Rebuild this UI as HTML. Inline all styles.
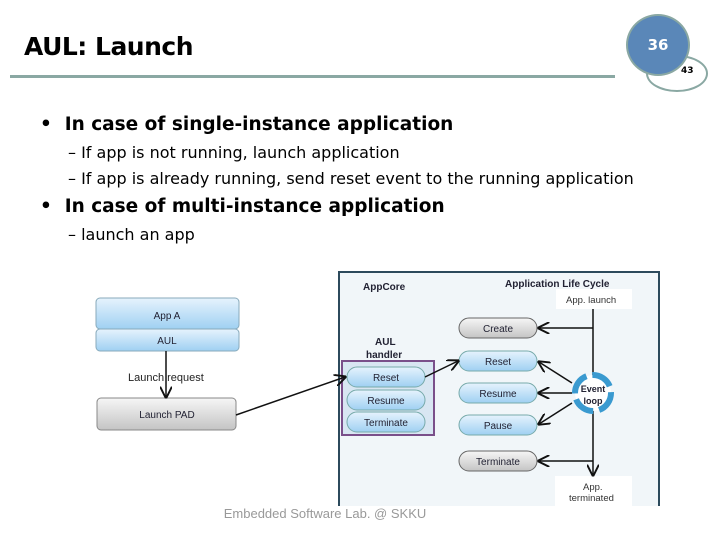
<!DOCTYPE html>
<html><head><style>
body{margin:0;width:720px;height:540px;background:#fff;font-family:"Liberation Sans",sans-serif;overflow:hidden;position:relative}
.t{position:absolute;white-space:nowrap;font-family:'DejaVu Sans',sans-serif}
</style></head><body>
<div class="t" style="left:24px;top:32px;font-size:25px;font-weight:bold;color:#000;letter-spacing:-0.5px">AUL: Launch</div>
<div style="position:absolute;left:10px;top:75px;width:605px;height:3px;background:#8aa8a3"></div>
<div style="position:absolute;left:646px;top:55px;width:58px;height:33px;border:2px solid #8aa8a3;border-radius:50%;"></div>
<div style="position:absolute;left:626px;top:14px;width:60px;height:58px;background:#5a87b8;border:2px solid #8aa8a3;border-radius:50%;color:#fff;font-weight:bold;font-size:15px;text-align:center;line-height:58px;font-family:'DejaVu Sans',sans-serif">36</div>
<div class="t" style="left:681px;top:66px;font-size:9px;font-weight:bold">43</div>
<div class="t" style="left:40px;top:114px;font-size:18.5px;font-weight:bold">•&nbsp; In case of single-instance application</div>
<div class="t" style="left:68px;top:143px;font-size:16px">– If app is not running, launch application</div>
<div class="t" style="left:68px;top:169px;font-size:16px">– If app is already running, send reset event to the running application</div>
<div class="t" style="left:40px;top:196px;font-size:18.5px;font-weight:bold">•&nbsp; In case of multi-instance application</div>
<div class="t" style="left:68px;top:225px;font-size:16px">– launch an app</div>
<svg width="720" height="540" style="position:absolute;left:0;top:0" font-family="Liberation Sans, sans-serif">
<defs>
<linearGradient id="b" x1="0" y1="0" x2="0" y2="1"><stop offset="0" stop-color="#e6f3fd"/><stop offset="1" stop-color="#9fd0f2"/></linearGradient>
<linearGradient id="g" x1="0" y1="0" x2="0" y2="1"><stop offset="0" stop-color="#f6f6f6"/><stop offset="1" stop-color="#c4c4c4"/></linearGradient>
<marker id="a" markerWidth="8" markerHeight="8" refX="7" refY="4" orient="auto"><path d="M0,0 L8,4 L0,8" fill="none" stroke="#111" stroke-width="1.3"/></marker>
</defs>
<rect x="339" y="272" width="320" height="240" fill="#f1f6f9" stroke="#2c4a5c" stroke-width="2"/>
<rect x="556" y="289" width="76" height="20" fill="#fff"/>
<rect x="555" y="476" width="77" height="36" fill="#fff"/>
<rect x="0" y="506" width="720" height="34" fill="#fff"/>
<text x="363" y="290" font-size="10" font-weight="bold" fill="#223">AppCore</text>
<text x="505" y="287" font-size="10" font-weight="bold" fill="#223">Application Life Cycle</text>
<text x="566" y="303" font-size="9.5" fill="#333">App. launch</text>
<text x="583" y="490" font-size="9.5" fill="#333">App.</text>
<text x="569" y="501" font-size="9.5" fill="#333">terminated</text>
<text x="375" y="345" font-size="10" font-weight="bold" fill="#223">AUL</text>
<text x="366" y="358" font-size="10" font-weight="bold" fill="#223">handler</text>
<rect x="342" y="361" width="92" height="74" fill="#d8e6f2" stroke="#7a4f8a" stroke-width="2"/>
<g font-size="10" fill="#223" text-anchor="middle">
<rect x="347" y="367" width="78" height="20" rx="10" fill="url(#b)" stroke="#7aa"/><text x="386" y="381">Reset</text>
<rect x="347" y="390" width="78" height="20" rx="10" fill="url(#b)" stroke="#7aa"/><text x="386" y="404">Resume</text>
<rect x="347" y="412" width="78" height="20" rx="10" fill="url(#b)" stroke="#7aa"/><text x="386" y="426">Terminate</text>
<rect x="459" y="318" width="78" height="20" rx="10" fill="url(#g)" stroke="#666"/><text x="498" y="332">Create</text>
<rect x="459" y="351" width="78" height="20" rx="10" fill="url(#b)" stroke="#7aa"/><text x="498" y="365">Reset</text>
<rect x="459" y="383" width="78" height="20" rx="10" fill="url(#b)" stroke="#7aa"/><text x="498" y="397">Resume</text>
<rect x="459" y="415" width="78" height="20" rx="10" fill="url(#b)" stroke="#7aa"/><text x="498" y="429">Pause</text>
<rect x="459" y="451" width="78" height="20" rx="10" fill="url(#g)" stroke="#666"/><text x="498" y="465">Terminate</text>
<rect x="96" y="298" width="143" height="31" rx="4" fill="url(#b)" stroke="#8ab"/><text x="167" y="319">App A</text>
<rect x="96" y="329" width="143" height="22" rx="4" fill="url(#b)" stroke="#8ab"/><text x="167" y="344">AUL</text>
<rect x="97" y="398" width="139" height="32" rx="4" fill="url(#g)" stroke="#888"/><text x="167" y="418">Launch PAD</text>
</g>
<text x="128" y="381" font-size="11" fill="#222">Launch request</text>
<g stroke="#111" stroke-width="1.5" fill="none">
<line x1="166" y1="351" x2="166" y2="397" marker-end="url(#a)"/>
<line x1="236" y1="415" x2="345" y2="377" marker-end="url(#a)"/>
<line x1="425" y1="377" x2="458" y2="361" marker-end="url(#a)"/>
<line x1="593" y1="309" x2="593" y2="475" marker-end="url(#a)"/>
<line x1="593" y1="328" x2="539" y2="328" marker-end="url(#a)"/>
<line x1="572" y1="383" x2="539" y2="362" marker-end="url(#a)"/>
<line x1="572" y1="393" x2="539" y2="393" marker-end="url(#a)"/>
<line x1="572" y1="403" x2="539" y2="424" marker-end="url(#a)"/>
<line x1="593" y1="461" x2="539" y2="461" marker-end="url(#a)"/>
</g>
<circle cx="593" cy="393" r="18" fill="#fff" stroke="#3a9ad0" stroke-width="6" stroke-dasharray="22 6"/>
<text x="593" y="392" font-size="9" font-weight="bold" text-anchor="middle" fill="#223">Event</text>
<text x="593" y="404" font-size="9" font-weight="bold" text-anchor="middle" fill="#223">loop</text>
<text x="325" y="518" font-size="13" text-anchor="middle" fill="#999">Embedded Software Lab. @ SKKU</text>
</svg>
</body></html>
